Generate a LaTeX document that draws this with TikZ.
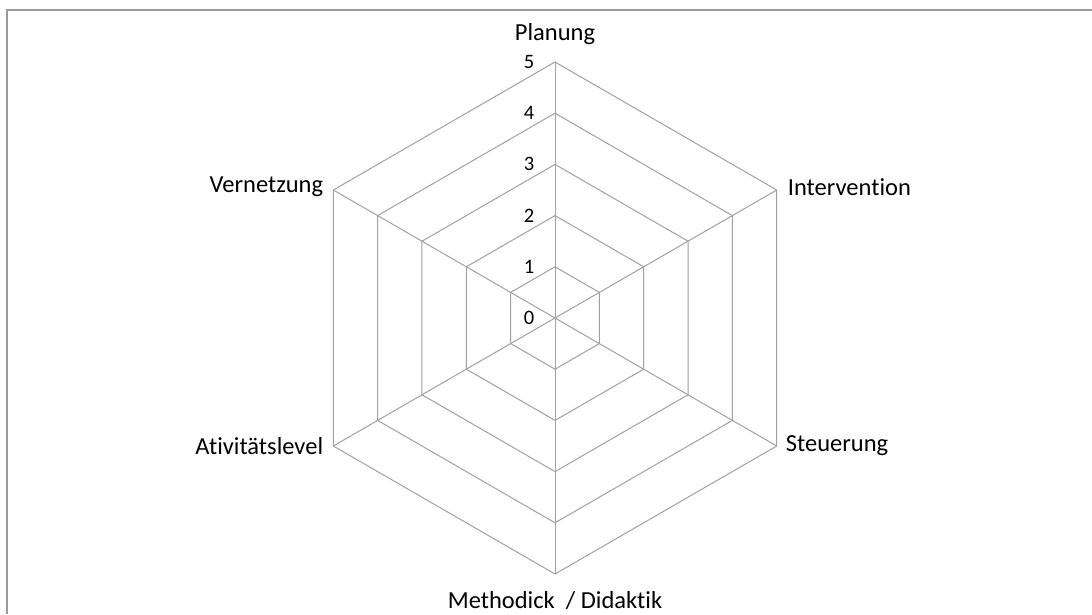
\documentclass[tikz,border=0pt]{standalone}
\usepackage{fontspec}
\setmainfont{Carlito}[Ligatures=NoCommon]
\definecolor{gridgray}{HTML}{A0A0A0}
\definecolor{framegray}{HTML}{9A9A9A}
\begin{document}
\begin{tikzpicture}[x=1pt,y=1pt,
  grid/.style={draw=gridgray, line width=1pt},
  frame/.style={draw=framegray, line width=1.6pt},
  axislabel/.style={font=\fontsize{24.5}{28}\selectfont, text=black, inner sep=0pt},
  ticklabel/.style={font=\fontsize{20.5}{24}\selectfont, text=black, inner sep=0pt}]
\useasboundingbox (0,0) rectangle (1092,614);
\draw[frame] (1092,604) -- (7,604) -- (7,0);
\begin{scope}[shift={(555,296)}]
  \coordinate (O) at (0,0);
  \foreach \k in {1,...,5}{
    \pgfmathsetmacro\r{51.2*\k}
    \draw[grid] (90:\r) -- (30:\r) -- (-30:\r) -- (-90:\r) -- (-150:\r) -- (150:\r) -- cycle;
  }
  \foreach \a/\n in {90/p,30/i,-30/s,-90/m,-150/a,150/v}
    \coordinate (\n) at (\a:256);
  \foreach \n in {p,i,s,m,a,v}
    \draw[grid] (O) -- (\n);
  \foreach \k in {0,...,5}
    \node[ticklabel] (t\k) at (-26,51.2*\k) {\k};
\end{scope}
\node[axislabel, anchor=center] (lp) at ([yshift=28]p) {Planung};
\node[axislabel, anchor=west] (li) at ([xshift=11,yshift=3]i) {Intervention};
\node[axislabel, anchor=west] (ls) at ([xshift=9,yshift=0]s) {Steuerung};
\node[axislabel, anchor=center] (lm) at ([yshift=-27]m) {Methodick~ / Didaktik};
\node[axislabel, anchor=east] (la) at ([xshift=-10,yshift=0]a) {Ativitätslevel};
\node[axislabel, anchor=east] (lv) at ([xshift=-10,yshift=3]v) {Vernetzung};
\end{tikzpicture}
\end{document}
